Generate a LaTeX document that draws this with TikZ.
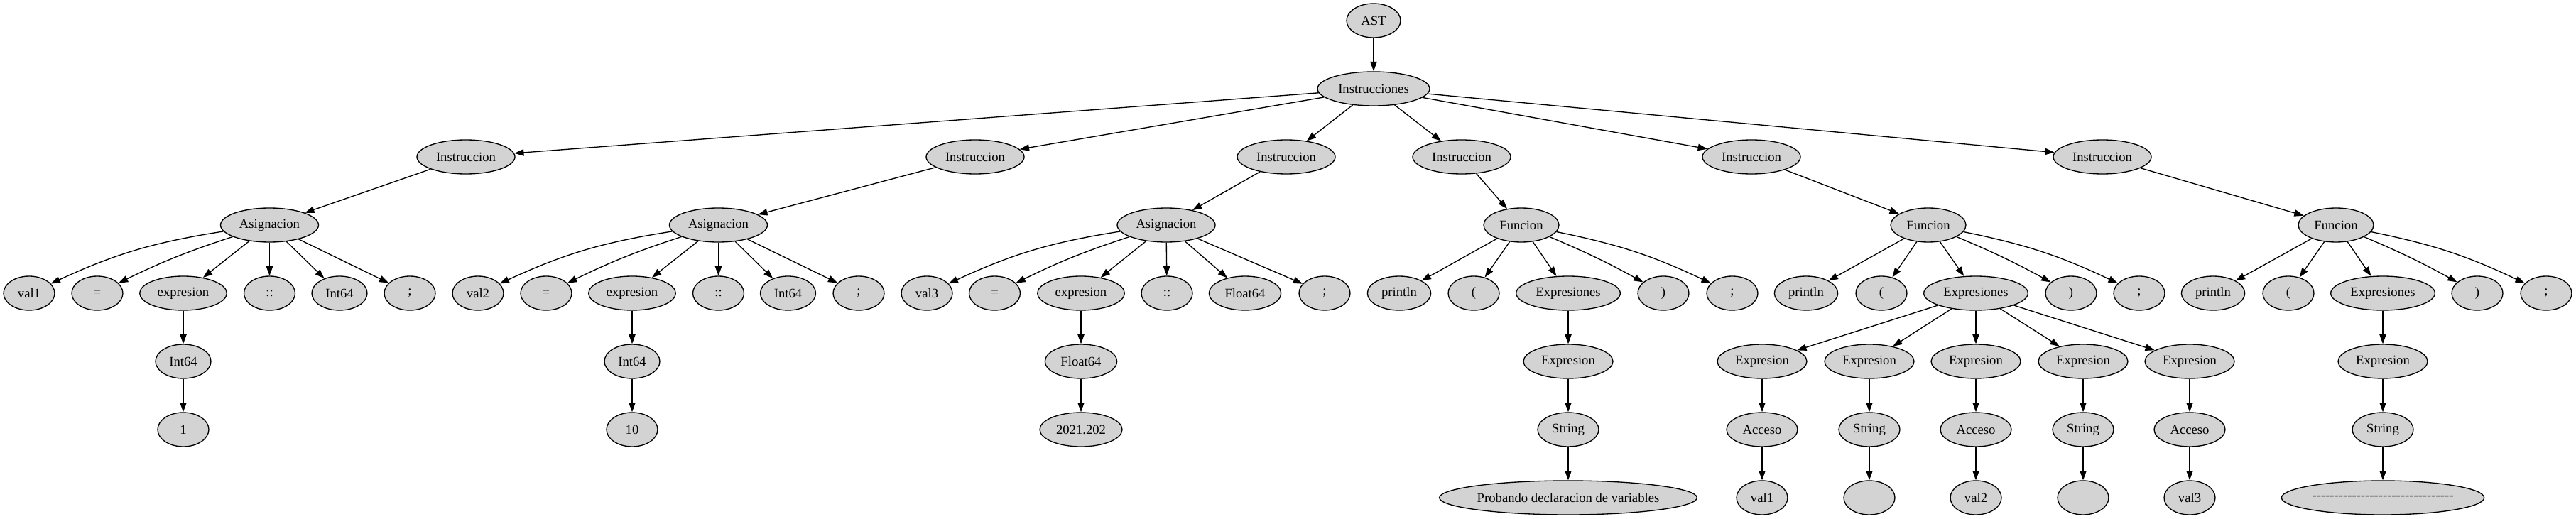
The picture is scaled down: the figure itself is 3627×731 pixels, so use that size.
\documentclass[tikz,border=0pt]{standalone}
\usepackage{fontspec}
\setmainfont{Liberation Serif}
\newfontfamily\plainserif{Liberation Serif}
\usetikzlibrary{shapes.geometric,arrows.meta}
\definecolor{gvfill}{HTML}{D3D3D3}
\tikzset{
  nd/.style={ellipse, draw=black, fill=gvfill, line width=1pt, inner sep=0pt,
    minimum height=36pt, minimum width=54pt, font=\fontsize{14pt}{16pt}\selectfont},
  wd/.style={minimum width=#1},
  edge/.style={draw=black, line width=1pt, -{Triangle[length=10pt,width=7pt]}}
}
\begin{document}
\begin{tikzpicture}[x=0.75pt,y=-0.75pt]
\useasboundingbox (0,0) rectangle (3627,731);
% rows: 29,125,221,317,413,509,605,701
\node[nd,wd=57pt] (ast) at (1934,29) {AST};
\node[nd,wd=118.5pt] (ins) at (1934,125) {Instrucciones};
\node[nd,wd=103.5pt] (i1) at (656,221) {Instruccion};
\node[nd,wd=103.5pt] (i2) at (1373,221) {Instruccion};
\node[nd,wd=103.5pt] (i3) at (1811,221) {Instruccion};
\node[nd,wd=103.5pt] (i4) at (2058,221) {Instruccion};
\node[nd,wd=103.5pt] (i5) at (2466,221) {Instruccion};
\node[nd,wd=103.5pt] (i6) at (2960,221) {Instruccion};
% Asignacion 1
\node[nd,wd=103.5pt] (a1) at (379.5,317) {Asignacion};
\node[nd] (a1v) at (41,413) {val1};
\node[nd] (a1e) at (137,413) {=};
\node[nd,wd=92pt] (a1x) at (258,413) {expresion};
\node[nd] (a1c) at (379.5,413) {::};
\node[nd,wd=58.5pt] (a1t) at (478,413) {Int64};
\node[nd] (a1s) at (577,413) {;};
\node[nd,wd=58.5pt] (a1xi) at (258,509) {Int64};
\node[nd] (a1xv) at (258,605) {1};
% Asignacion 2
\node[nd,wd=103.5pt] (a2) at (1011.5,317) {Asignacion};
\node[nd] (a2v) at (673,413) {val2};
\node[nd] (a2e) at (769,413) {=};
\node[nd,wd=92pt] (a2x) at (890,413) {expresion};
\node[nd] (a2c) at (1011.5,413) {::};
\node[nd,wd=58.5pt] (a2t) at (1109.5,413) {Int64};
\node[nd] (a2s) at (1209,413) {;};
\node[nd,wd=58.5pt] (a2xi) at (890,509) {Int64};
\node[nd] (a2xv) at (890,605) {10};
% Asignacion 3
\node[nd,wd=103.5pt] (a3) at (1642,317) {Asignacion};
\node[nd] (a3v) at (1305,413) {val3};
\node[nd] (a3e) at (1400.5,413) {=};
\node[nd,wd=92pt] (a3x) at (1522,413) {expresion};
\node[nd] (a3c) at (1643,413) {::};
\node[nd,wd=76pt] (a3t) at (1753,413) {Float64};
\node[nd] (a3s) at (1865,413) {;};
\node[nd,wd=76pt] (a3xf) at (1522,509) {Float64};
\node[nd,wd=87pt] (a3xv) at (1522,605) {2021.202};
% Funcion 4
\node[nd,wd=79.5pt] (f4) at (2142,317) {Funcion};
\node[nd,wd=67pt] (f4p) at (1970,413) {println};
\node[nd] (f4o) at (2075,413) {(};
\node[nd,wd=110pt] (f4x) at (2208,413) {Expresiones};
\node[nd] (f4c) at (2342,413) {)};
\node[nd] (f4s) at (2439,413) {;};
\node[nd,wd=94.5pt] (f4e) at (2208,509) {Expresion};
\node[nd,wd=64.5pt] (f4st) at (2208,605) {String};
\node[nd,wd=271pt] (f4v) at (2208,701) {Probando declaracion de variables};
% Funcion 5
\node[nd,wd=79.5pt] (f5) at (2715,317) {Funcion};
\node[nd,wd=67pt] (f5p) at (2543,413) {println};
\node[nd] (f5o) at (2649,413) {(};
\node[nd,wd=110pt] (f5x) at (2782,413) {Expresiones};
\node[nd] (f5c) at (2916,413) {)};
\node[nd] (f5s) at (3012,413) {;};
\node[nd,wd=94.5pt] (f5e1) at (2481,509) {Expresion};
\node[nd,wd=94.5pt] (f5e2) at (2632,509) {Expresion};
\node[nd,wd=94.5pt] (f5e3) at (2782,509) {Expresion};
\node[nd,wd=94.5pt] (f5e4) at (2933,509) {Expresion};
\node[nd,wd=94.5pt] (f5e5) at (3083,509) {Expresion};
\node[nd,wd=75pt] (f5k1) at (2481,605) {Acceso};
\node[nd,wd=64.5pt] (f5k2) at (2632,605) {String};
\node[nd,wd=75pt] (f5k3) at (2782,605) {Acceso};
\node[nd,wd=64.5pt] (f5k4) at (2933,605) {String};
\node[nd,wd=75pt] (f5k5) at (3083,605) {Acceso};
\node[nd] (f5v1) at (2481,701) {val1};
\node[nd] (f5v2) at (2632,701) {};
\node[nd] (f5v3) at (2782,701) {val2};
\node[nd] (f5v4) at (2933,701) {};
\node[nd] (f5v5) at (3083,701) {val3};
% Funcion 6
\node[nd,wd=79.5pt] (f6) at (3289,317) {Funcion};
\node[nd,wd=67pt] (f6p) at (3116,413) {println};
\node[nd] (f6o) at (3222,413) {(};
\node[nd,wd=110pt] (f6x) at (3355,413) {Expresiones};
\node[nd] (f6c) at (3488,413) {)};
\node[nd] (f6s) at (3585,413) {;};
\node[nd,wd=94.5pt] (f6e) at (3355,509) {Expresion};
\node[nd,wd=64.5pt] (f6st) at (3355,605) {String};
\node[nd,wd=214pt] (f6v) at (3355,701) {\plainserif --------------------------------};
% edges
\draw[edge] (ast) -- (ins);
\foreach \t in {i1,i2,i3,i4,i5,i6} \draw[edge] (ins) -- (\t);
\draw[edge] (i1) -- (a1);
\draw[edge] (i2) -- (a2);
\draw[edge] (i3) -- (a3);
\draw[edge] (i4) -- (f4);
\draw[edge] (i5) -- (f5);
\draw[edge] (i6) -- (f6);
\foreach \a in {a1,a2,a3}{
  \draw[edge] (\a) to[bend right=8] (\a v);
  \draw[edge] (\a) to[bend right=4] (\a e);
  \draw[edge] (\a) -- (\a x);
  \draw[edge] (\a) -- (\a c);
  \draw[edge] (\a) -- (\a t);
  \draw[edge] (\a) -- (\a s);
}
\draw[edge] (a1x) -- (a1xi);
\draw[edge] (a1xi) -- (a1xv);
\draw[edge] (a2x) -- (a2xi);
\draw[edge] (a2xi) -- (a2xv);
\draw[edge] (a3x) -- (a3xf);
\draw[edge] (a3xf) -- (a3xv);
\foreach \f in {f4,f5,f6}{
  \draw[edge] (\f) -- (\f p);
  \draw[edge] (\f) -- (\f o);
  \draw[edge] (\f) -- (\f x);
  \draw[edge] (\f) to[bend left=3] (\f c);
  \draw[edge] (\f) to[bend left=7] (\f s);
}
\draw[edge] (f4x) -- (f4e);
\draw[edge] (f4e) -- (f4st);
\draw[edge] (f4st) -- (f4v);
\foreach \k in {1,...,5}{
  \draw[edge] (f5x) -- (f5e\k);
  \draw[edge] (f5e\k) -- (f5k\k);
  \draw[edge] (f5k\k) -- (f5v\k);
}
\draw[edge] (f6x) -- (f6e);
\draw[edge] (f6e) -- (f6st);
\draw[edge] (f6st) -- (f6v);
\end{tikzpicture}
\end{document}
